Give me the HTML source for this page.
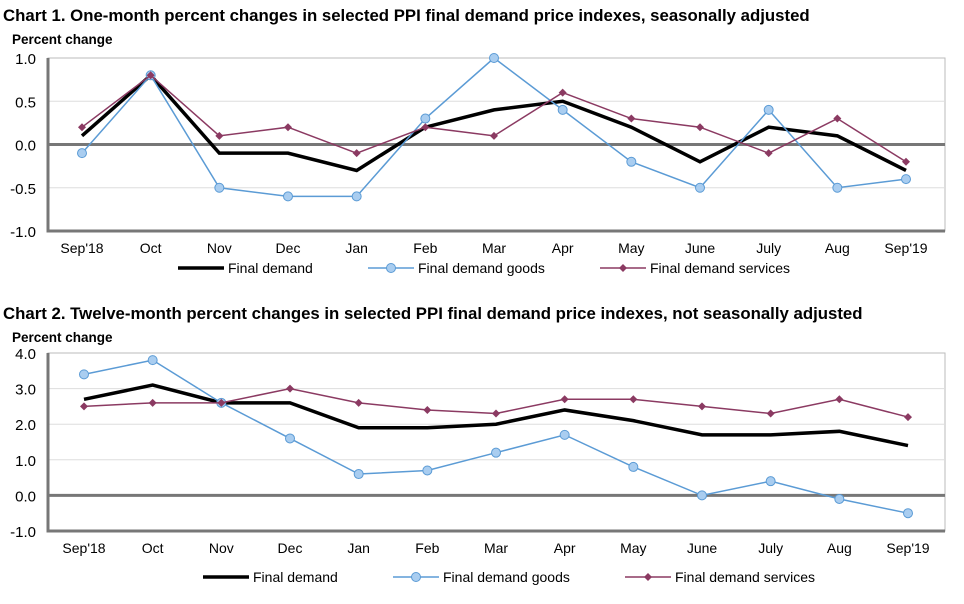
<!DOCTYPE html>
<html><head><meta charset="utf-8"><style>
body{margin:0;background:#fff;font-family:"Liberation Sans",Arial,sans-serif;}
svg text{font-family:"Liberation Sans",Arial,sans-serif;}
</style></head><body>
<svg id="s" width="964" height="599" xmlns="http://www.w3.org/2000/svg"></svg>
<script>
const categories=["Sep'18","Oct","Nov","Dec","Jan","Feb","Mar","Apr","May","June","July","Aug","Sep'19"];
const c1FinalDemand=[0.1,0.8,-0.1,-0.1,-0.3,0.2,0.4,0.5,0.2,-0.2,0.2,0.1,-0.3];
const c1Goods=[-0.1,0.8,-0.5,-0.6,-0.6,0.3,1.0,0.4,-0.2,-0.5,0.4,-0.5,-0.4];
const c1Services=[0.2,0.8,0.1,0.2,-0.1,0.2,0.1,0.6,0.3,0.2,-0.1,0.3,-0.2];
const c1Ticks=[1.0,0.5,0.0,-0.5,-1.0];
const c2FinalDemand=[2.7,3.1,2.6,2.6,1.9,1.9,2.0,2.4,2.1,1.7,1.7,1.8,1.4];
const c2Goods=[3.4,3.8,2.6,1.6,0.6,0.7,1.2,1.7,0.8,0.0,0.4,-0.1,-0.5];
const c2Services=[2.5,2.6,2.6,3.0,2.6,2.4,2.3,2.7,2.7,2.5,2.3,2.7,2.2];
const c2Ticks=[4.0,3.0,2.0,1.0,0.0,-1.0];

const NS="http://www.w3.org/2000/svg";
const svg=document.getElementById('s');
function mk(tag,attrs,parent,text){const e=document.createElementNS(NS,tag);for(const k in attrs)e.setAttribute(k,attrs[k]);if(text!==undefined)e.textContent=text;(parent||svg).appendChild(e);return e;}

function chart(o){
  const g=mk('g',{});
  
  
  const t=mk('text',{x:3,y:o.titleY,'font-size':16.8,'font-weight':'bold',fill:'#000'},g,o.title);
  
  
  const yl=mk('text',{x:12,y:o.titleY+23,'font-size':13.5,'font-weight':'bold'},g,'Percent change');
  
  
  const L=48,R=945,T=o.top,B=o.bottom;
  const y=v=>T+(o.max-v)/(o.max-o.min)*(B-T);
  const x=i=>o.x0+i*(o.x1-o.x0)/(categories.length-1);
  mk('rect',{x:L,y:T,width:R-L,height:B-T,fill:'none',stroke:'#bbb','stroke-width':1},g);
  o.ticks.forEach(v=>{
    if(v!==o.max&&v!==o.min&&v!==0) mk('line',{x1:L,x2:R,y1:y(v),y2:y(v),stroke:'#ddd','stroke-width':1},g);
    const tl=mk('text',{x:36,y:y(v)+6,'font-size':15,'text-anchor':'end'},g,v.toFixed(1));
    
    
  });
  mk('line',{x1:L,x2:R,y1:y(0),y2:y(0),stroke:'#777','stroke-width':3},g);
  mk('line',{x1:L,x2:R,y1:B,y2:B,stroke:'#777','stroke-width':3},g);
  mk('line',{x1:L,x2:L,y1:T,y2:B+1.5,stroke:'#777','stroke-width':3},g);
  categories.forEach((c,i)=>{
    const tl=mk('text',{x:x(i),y:B+22,'font-size':14,'text-anchor':'middle'},g,c);
    
    
  });
  const series=[
    {d:o.fd,c:'#000',w:3.5,m:null,n:'final-demand-line'},
    {d:o.goods,c:'#5b9bd5',w:1.5,m:'circle',n:'final-demand-goods-line'},
    {d:o.serv,c:'#8b3a62',w:1.5,m:'diamond',n:'final-demand-services-line'}];
  series.forEach(s=>{
    const p=mk('polyline',{points:s.d.map((v,i)=>x(i)+','+y(v)).join(' '),fill:'none',stroke:s.c,'stroke-width':s.w},g);
    
    
    s.d.forEach((v,i)=>{
      let m;
      if(s.m==='circle') m=mk('circle',{cx:x(i),cy:y(v),r:4.5,fill:'#a9cdf0',stroke:'#5b9bd5','stroke-width':1},g);
      else if(s.m==='diamond') m=mk('polygon',{points:`${x(i)},${y(v)-4} ${x(i)+4},${y(v)} ${x(i)},${y(v)+4} ${x(i)-4},${y(v)}`,fill:s.c},g);
      if(m){}
    });
  });
  const ly=o.legY, lx=o.legX;
  const items=[['Final demand','#000',3.5,null],['Final demand goods','#5b9bd5',1.5,'circle'],['Final demand services','#8b3a62',1.5,'diamond']];
  const offs=[0,190,422];
  items.forEach((it,k)=>{
    const lg=mk('g',{},g);
    
    
    const bx=lx+offs[k];
    mk('line',{x1:bx,x2:bx+46,y1:ly,y2:ly,stroke:it[1],'stroke-width':it[2]},lg);
    if(it[3]==='circle') mk('circle',{cx:bx+23,cy:ly,r:4.5,fill:'#a9cdf0',stroke:'#5b9bd5'},lg);
    if(it[3]==='diamond') mk('polygon',{points:`${bx+23},${ly-4} ${bx+27},${ly} ${bx+23},${ly+4} ${bx+19},${ly}`,fill:it[1]},lg);
    mk('text',{x:bx+50,y:ly+5,'font-size':14},lg,it[0]);
  });
}
chart({name:'chart-1',title:'Chart 1. One-month percent changes in selected PPI final demand price indexes, seasonally adjusted',titleY:21,top:58,bottom:231,max:1,min:-1,ticks:c1Ticks,x0:82,x1:906,fd:c1FinalDemand,goods:c1Goods,serv:c1Services,legX:178,legY:268});
chart({name:'chart-2',title:'Chart 2. Twelve-month percent changes in selected PPI final demand price indexes, not seasonally adjusted',titleY:319,top:353,bottom:531,max:4,min:-1,ticks:c2Ticks,x0:84,x1:908,fd:c2FinalDemand,goods:c2Goods,serv:c2Services,legX:203,legY:577});
</script>
</body></html>
